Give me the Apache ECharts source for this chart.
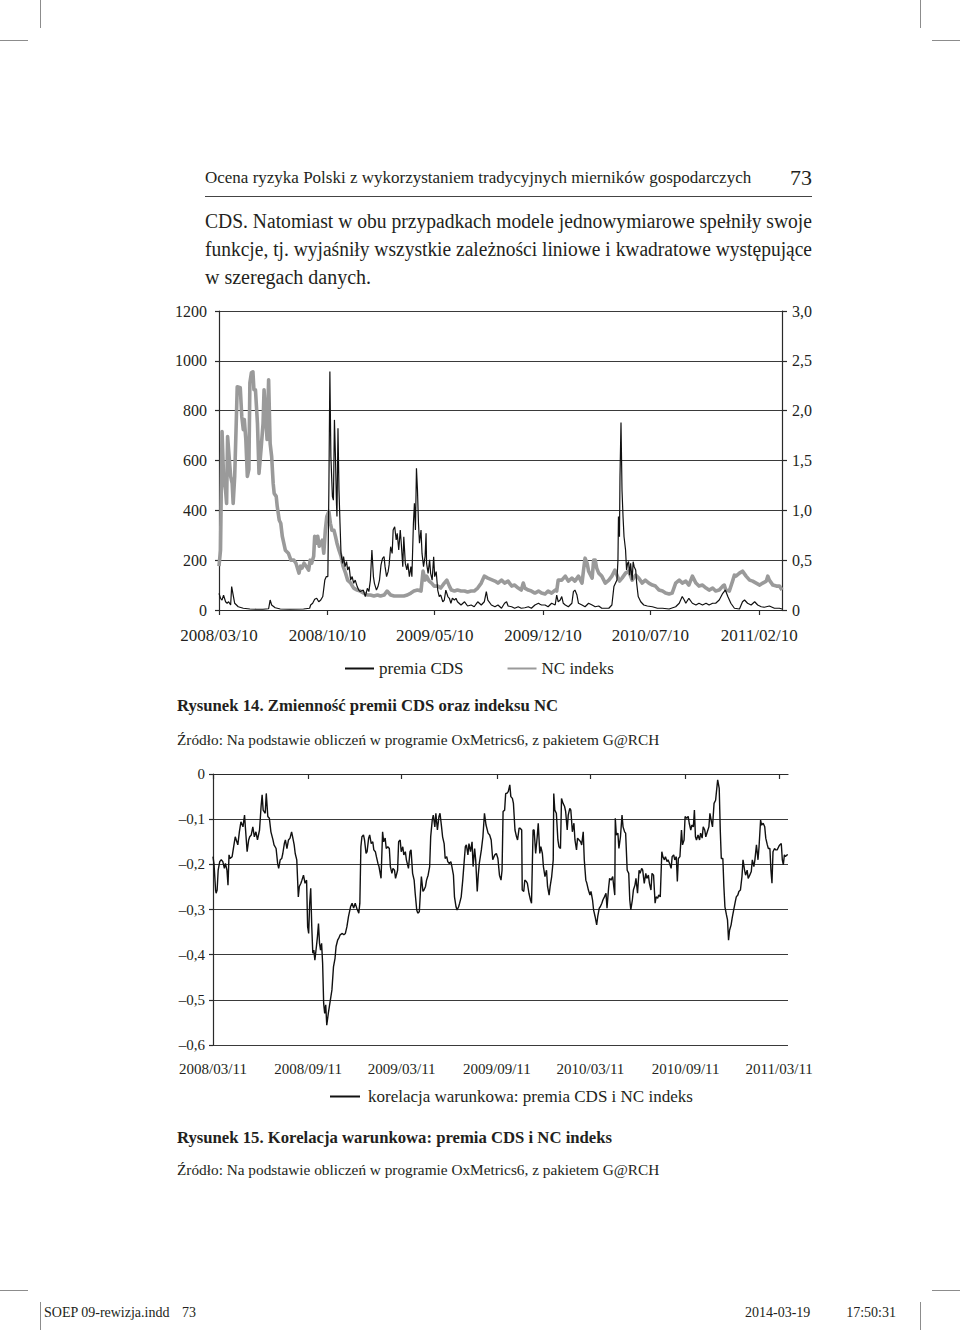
<!DOCTYPE html>
<html><head><meta charset="utf-8">
<script src="https://cdn.jsdelivr.net/npm/echarts@6/dist/echarts.min.js"></script>
<style>
html,body{margin:0;padding:0;background:#fff;}
#page{position:relative;width:960px;height:1330px;overflow:hidden;font-family:"Liberation Serif",serif;color:#231f20;background:#fff;}
#chart{position:absolute;left:0;top:0;width:960px;height:1330px;}
.t{position:absolute;white-space:nowrap;}
.mark{position:absolute;background:#8c8c8c;}
</style></head><body>
<div id="page">
<div id="chart"></div>
<div class="mark" style="left:40px;top:0;width:1px;height:28px"></div>
<div class="mark" style="left:0;top:40px;width:28px;height:1px"></div>
<div class="mark" style="left:920px;top:0;width:1px;height:28px"></div>
<div class="mark" style="left:932px;top:40px;width:28px;height:1px"></div>
<div class="mark" style="left:40px;top:1302px;width:1px;height:28px"></div>
<div class="mark" style="left:0;top:1290px;width:28px;height:1px"></div>
<div class="mark" style="left:920px;top:1302px;width:1px;height:28px"></div>
<div class="mark" style="left:932px;top:1290px;width:28px;height:1px"></div>

<div class="t" style="left:205px;top:169px;font-size:17px;line-height:17px">Ocena ryzyka Polski z wykorzystaniem tradycyjnych mierników gospodarczych</div>
<div class="t" style="right:148px;top:167px;font-size:22px;line-height:22px">73</div>
<div style="position:absolute;left:205px;top:196px;width:607px;height:1px;background:#444"></div>

<div class="t" data-w="607" style="left:205px;top:211px;font-size:20px;line-height:20px">CDS. Natomiast w obu przypadkach modele jednowymiarowe spełniły swoje</div>
<div class="t" data-w="607" style="left:205px;top:239px;font-size:20px;line-height:20px">funkcje, tj. wyjaśniły wszystkie zależności liniowe i kwadratowe występujące</div>
<div class="t" style="left:205px;top:267px;font-size:20px;line-height:20px">w szeregach danych.</div>

<div class="t" style="left:177px;top:697px;font-size:16.7px;line-height:17px;font-weight:bold">Rysunek 14. Zmienność premii CDS oraz indeksu NC</div>
<div class="t" style="left:177px;top:732px;font-size:15.3px;line-height:16px">Źródło: Na podstawie obliczeń w programie OxMetrics6, z pakietem G@RCH</div>
<div class="t" style="left:177px;top:1129px;font-size:16.7px;line-height:17px;font-weight:bold">Rysunek 15. Korelacja warunkowa: premia CDS i NC indeks</div>
<div class="t" style="left:177px;top:1162px;font-size:15.3px;line-height:16px">Źródło: Na podstawie obliczeń w programie OxMetrics6, z pakietem G@RCH</div>

<div class="t" style="left:44px;top:1306px;font-size:14px;line-height:14px">SOEP 09-rewizja.indd</div>
<div class="t" style="right:764px;top:1306px;font-size:14px;line-height:14px">73</div>
<div class="t" style="left:745px;top:1306px;font-size:14px;line-height:14px">2014-03-19</div>
<div class="t" style="right:64px;top:1306px;font-size:14px;line-height:14px">17:50:31</div>
</div>
<script>
// ---- Chart 1 (Rysunek 14): x = days since 2008-03-10 ----
const tickDays1 = [0, 214, 426, 640, 852, 1067];
const tickLabels1 = ['2008/03/10', '2008/10/10', '2009/05/10', '2009/12/10', '2010/07/10', '2011/02/10'];
const cdsName = 'premia CDS';
const ncName = 'NC indeks';
// premia CDS [day, value] (left axis)
const cdsData = [[0,67],[3,47],[6,40],[9,60],[13,33],[16,27],[19,33],[23,20],[25,94],[28,60],[31,27],[38,13],[48,7],[61,4],[74,3],[87,3],[98,5],[101,40],[104,20],[111,9],[121,4],[140,3],[167,4],[179,7],[181,20],[185,27],[189,43],[193,47],[197,33],[201,40],[205,54],[209,120],[212,134],[215,134],[217,481],[219,957],[221,615],[224,455],[226,441],[228,763],[230,615],[232,428],[233,375],[235,729],[237,481],[239,348],[241,227],[244,187],[246,214],[249,174],[252,194],[254,161],[257,174],[260,120],[263,134],[266,107],[269,120],[273,94],[276,80],[279,74],[285,80],[289,54],[293,87],[296,74],[299,120],[302,241],[305,134],[307,107],[311,80],[314,94],[317,120],[320,181],[323,207],[326,214],[328,174],[331,134],[334,154],[336,181],[339,254],[342,227],[344,321],[347,334],[350,281],[352,308],[355,241],[358,321],[360,268],[363,174],[365,294],[368,187],[371,161],[373,187],[376,134],[379,174],[381,134],[384,348],[386,428],[388,321],[390,569],[392,481],[394,348],[396,268],[399,321],[401,227],[404,174],[407,214],[409,308],[410,187],[413,147],[416,201],[418,147],[421,120],[424,214],[426,134],[429,154],[432,80],[435,54],[438,60],[442,33],[445,40],[448,80],[452,54],[455,47],[458,27],[461,47],[465,40],[468,47],[471,33],[478,20],[485,33],[491,16],[498,20],[504,13],[511,33],[518,20],[524,33],[528,74],[531,40],[538,20],[545,13],[551,20],[558,7],[564,27],[568,33],[571,16],[578,13],[584,7],[591,13],[597,7],[604,9],[611,13],[617,7],[624,20],[631,27],[634,23],[637,20],[644,20],[650,13],[657,27],[664,20],[667,60],[670,33],[674,40],[677,54],[680,27],[684,20],[690,13],[697,27],[700,74],[703,80],[707,60],[710,27],[717,20],[723,13],[730,27],[737,20],[743,13],[750,16],[756,7],[763,7],[770,7],[776,20],[780,94],[783,107],[786,120],[788,201],[789,375],[791,294],[792,535],[794,752],[796,481],[798,375],[800,294],[803,241],[805,161],[807,187],[809,194],[811,140],[813,187],[816,120],[818,194],[820,174],[823,161],[825,107],[828,54],[833,33],[839,20],[846,16],[856,13],[866,7],[876,7],[889,4],[902,13],[909,27],[915,54],[919,40],[922,27],[928,47],[935,27],[942,20],[948,27],[955,20],[962,27],[968,20],[975,27],[981,27],[988,40],[995,67],[1000,80],[1005,54],[1011,27],[1018,7],[1028,4],[1034,33],[1038,40],[1044,27],[1051,20],[1058,33],[1064,20],[1071,13],[1077,11],[1087,16],[1097,7],[1107,7],[1112,4]];
// NC indeks [day, value] (right axis)
const ncData = [[0,0.44],[3,0.60],[6,1.79],[9,1.34],[13,1.20],[15,1.07],[17,1.74],[20,1.54],[23,1.34],[26,1.27],[28,1.07],[31,1.34],[34,1.87],[36,2.24],[42,2.23],[45,1.94],[48,1.81],[50,1.91],[53,1.71],[56,1.34],[59,1.41],[61,2.28],[64,2.38],[67,2.39],[69,2.21],[72,2.21],[76,1.87],[79,1.37],[83,1.61],[87,1.87],[89,2.21],[92,1.94],[95,1.71],[98,2.31],[101,1.67],[104,1.54],[107,1.27],[109,1.17],[113,1.14],[115,1.04],[119,0.90],[122,0.87],[125,0.74],[128,0.67],[131,0.60],[137,0.57],[142,0.50],[148,0.50],[152,0.47],[158,0.37],[161,0.44],[164,0.42],[168,0.47],[172,0.44],[177,0.40],[180,0.50],[183,0.47],[187,0.54],[189,0.74],[192,0.67],[195,0.74],[198,0.64],[201,0.67],[204,0.70],[207,0.57],[210,0.80],[213,0.94],[217,0.99],[220,0.87],[223,0.80],[227,0.80],[230,0.74],[233,0.67],[237,0.60],[241,0.54],[245,0.44],[250,0.37],[254,0.30],[260,0.27],[266,0.22],[273,0.20],[279,0.19],[286,0.17],[293,0.15],[299,0.15],[306,0.14],[313,0.15],[319,0.14],[326,0.15],[332,0.19],[339,0.15],[346,0.14],[352,0.14],[359,0.14],[365,0.14],[372,0.15],[379,0.17],[385,0.19],[392,0.20],[399,0.19],[403,0.39],[407,0.30],[410,0.34],[415,0.29],[420,0.27],[425,0.24],[432,0.24],[438,0.22],[445,0.27],[450,0.30],[455,0.24],[459,0.20],[465,0.19],[471,0.20],[478,0.19],[485,0.19],[491,0.18],[498,0.19],[504,0.19],[511,0.22],[518,0.27],[524,0.34],[531,0.32],[545,0.29],[551,0.27],[558,0.30],[564,0.27],[571,0.29],[578,0.24],[584,0.25],[591,0.22],[597,0.20],[601,0.27],[604,0.22],[611,0.20],[617,0.19],[624,0.17],[631,0.19],[637,0.17],[644,0.16],[650,0.19],[657,0.17],[664,0.20],[667,0.19],[670,0.30],[677,0.30],[684,0.34],[690,0.29],[697,0.32],[703,0.29],[710,0.34],[717,0.27],[720,0.40],[723,0.52],[727,0.47],[730,0.39],[737,0.32],[740,0.50],[743,0.50],[746,0.42],[750,0.37],[756,0.34],[763,0.27],[770,0.30],[776,0.34],[782,0.40],[786,0.35],[791,0.29],[796,0.32],[803,0.37],[809,0.39],[813,0.34],[816,0.30],[823,0.35],[829,0.32],[836,0.27],[842,0.30],[849,0.27],[856,0.25],[862,0.24],[869,0.20],[876,0.19],[882,0.17],[889,0.16],[895,0.17],[902,0.27],[909,0.30],[915,0.27],[922,0.29],[928,0.25],[935,0.34],[942,0.27],[948,0.24],[955,0.25],[962,0.22],[968,0.20],[975,0.22],[981,0.19],[988,0.20],[995,0.24],[998,0.25],[1001,0.20],[1008,0.19],[1015,0.30],[1018,0.35],[1021,0.34],[1028,0.37],[1034,0.39],[1041,0.34],[1048,0.30],[1054,0.29],[1061,0.27],[1068,0.25],[1074,0.27],[1081,0.29],[1084,0.34],[1087,0.30],[1094,0.25],[1101,0.24],[1107,0.24],[1112,0.20]];

// ---- Chart 2 (Rysunek 15): x = days since 2008-03-11 ----
const tickDays2 = [0, 184, 365, 549, 730, 914, 1095];
const tickLabels2 = ['2008/03/11', '2008/09/11', '2009/03/11', '2009/09/11', '2010/03/11', '2010/09/11', '2011/03/11'];
const corrName = 'korelacja warunkowa: premia CDS i NC indeks';
const corrData = [[0,-0.183],[2,-0.2],[5,-0.257],[6,-0.264],[8,-0.257],[10,-0.213],[13,-0.194],[16,-0.19],[19,-0.194],[22,-0.209],[24,-0.198],[27,-0.213],[29,-0.246],[31,-0.179],[33,-0.187],[37,-0.183],[40,-0.161],[43,-0.139],[45,-0.146],[48,-0.157],[51,-0.128],[54,-0.106],[58,-0.117],[61,-0.091],[63,-0.124],[66,-0.172],[69,-0.146],[71,-0.139],[74,-0.135],[77,-0.117],[80,-0.139],[83,-0.128],[86,-0.146],[90,-0.124],[93,-0.072],[95,-0.046],[97,-0.08],[101,-0.087],[103,-0.043],[106,-0.094],[109,-0.098],[112,-0.128],[116,-0.146],[118,-0.157],[122,-0.165],[125,-0.198],[127,-0.209],[130,-0.19],[133,-0.187],[135,-0.176],[138,-0.154],[140,-0.146],[143,-0.165],[146,-0.146],[149,-0.142],[152,-0.128],[154,-0.139],[157,-0.157],[159,-0.176],[162,-0.19],[165,-0.272],[167,-0.249],[170,-0.242],[172,-0.235],[175,-0.224],[178,-0.242],[181,-0.235],[183,-0.338],[185,-0.353],[187,-0.286],[189,-0.253],[191,-0.338],[193,-0.397],[195,-0.39],[197,-0.412],[200,-0.382],[202,-0.36],[204,-0.331],[206,-0.375],[208,-0.39],[210,-0.375],[212,-0.419],[214,-0.508],[216,-0.53],[218,-0.511],[220,-0.556],[223,-0.53],[225,-0.515],[228,-0.493],[230,-0.478],[233,-0.427],[236,-0.408],[238,-0.382],[241,-0.368],[243,-0.364],[246,-0.356],[250,-0.353],[253,-0.356],[256,-0.353],[259,-0.338],[262,-0.316],[266,-0.294],[269,-0.286],[272,-0.297],[275,-0.286],[278,-0.297],[282,-0.308],[284,-0.286],[286,-0.161],[288,-0.139],[291,-0.135],[293,-0.146],[296,-0.176],[298,-0.172],[301,-0.142],[303,-0.135],[306,-0.154],[309,-0.15],[311,-0.168],[314,-0.172],[316,-0.183],[319,-0.198],[321,-0.205],[325,-0.231],[328,-0.128],[330,-0.15],[333,-0.142],[335,-0.165],[338,-0.161],[341,-0.165],[343,-0.205],[346,-0.22],[348,-0.209],[351,-0.213],[353,-0.231],[357,-0.213],[359,-0.15],[362,-0.146],[364,-0.172],[367,-0.161],[369,-0.179],[372,-0.172],[374,-0.19],[378,-0.209],[381,-0.172],[383,-0.168],[386,-0.22],[389,-0.235],[391,-0.264],[394,-0.301],[396,-0.308],[399,-0.305],[401,-0.264],[403,-0.227],[406,-0.26],[408,-0.257],[411,-0.249],[413,-0.235],[416,-0.224],[419,-0.205],[421,-0.139],[424,-0.102],[426,-0.091],[429,-0.117],[431,-0.087],[434,-0.124],[437,-0.094],[439,-0.087],[442,-0.117],[444,-0.139],[447,-0.154],[449,-0.187],[452,-0.183],[454,-0.194],[457,-0.198],[460,-0.194],[462,-0.205],[465,-0.224],[467,-0.272],[470,-0.294],[472,-0.301],[475,-0.294],[477,-0.286],[480,-0.272],[483,-0.235],[485,-0.205],[488,-0.161],[490,-0.157],[493,-0.179],[495,-0.154],[498,-0.172],[501,-0.15],[503,-0.205],[506,-0.165],[508,-0.19],[511,-0.26],[513,-0.224],[515,-0.198],[519,-0.168],[522,-0.139],[525,-0.087],[528,-0.113],[532,-0.131],[535,-0.135],[538,-0.146],[541,-0.19],[545,-0.179],[548,-0.176],[551,-0.187],[554,-0.224],[557,-0.235],[559,-0.213],[561,-0.083],[564,-0.08],[566,-0.043],[568,-0.043],[571,-0.039],[574,-0.024],[576,-0.05],[579,-0.054],[581,-0.065],[584,-0.124],[587,-0.139],[589,-0.146],[592,-0.12],[594,-0.12],[597,-0.124],[598,-0.257],[601,-0.26],[603,-0.235],[606,-0.238],[608,-0.242],[611,-0.264],[614,-0.279],[616,-0.286],[619,-0.124],[621,-0.124],[624,-0.176],[627,-0.139],[629,-0.109],[632,-0.176],[634,-0.161],[637,-0.176],[639,-0.205],[642,-0.227],[645,-0.213],[647,-0.249],[650,-0.268],[652,-0.249],[655,-0.227],[658,-0.19],[659,-0.043],[661,-0.08],[664,-0.087],[667,-0.146],[669,-0.161],[672,-0.165],[674,-0.054],[677,-0.065],[680,-0.072],[682,-0.083],[685,-0.124],[687,-0.091],[690,-0.076],[692,-0.08],[695,-0.128],[698,-0.109],[700,-0.146],[703,-0.168],[705,-0.142],[708,-0.146],[711,-0.15],[713,-0.157],[716,-0.128],[718,-0.19],[721,-0.235],[723,-0.242],[726,-0.257],[729,-0.268],[731,-0.26],[734,-0.279],[736,-0.301],[739,-0.316],[742,-0.334],[744,-0.316],[747,-0.297],[749,-0.294],[752,-0.286],[754,-0.279],[757,-0.272],[760,-0.264],[762,-0.297],[765,-0.253],[767,-0.231],[770,-0.235],[773,-0.227],[775,-0.249],[777,-0.268],[778,-0.098],[780,-0.135],[783,-0.131],[785,-0.165],[788,-0.139],[791,-0.091],[793,-0.117],[796,-0.128],[798,-0.131],[801,-0.213],[804,-0.22],[806,-0.279],[808,-0.301],[811,-0.279],[813,-0.257],[816,-0.246],[818,-0.231],[821,-0.264],[824,-0.213],[826,-0.22],[829,-0.209],[831,-0.213],[834,-0.242],[837,-0.22],[839,-0.231],[842,-0.224],[844,-0.242],[847,-0.257],[849,-0.22],[852,-0.224],[855,-0.286],[857,-0.272],[860,-0.275],[862,-0.268],[865,-0.272],[868,-0.172],[870,-0.183],[873,-0.19],[875,-0.183],[878,-0.194],[880,-0.19],[883,-0.198],[886,-0.209],[888,-0.183],[891,-0.179],[893,-0.19],[896,-0.183],[898,-0.238],[900,-0.187],[903,-0.183],[906,-0.124],[908,-0.157],[911,-0.146],[913,-0.094],[916,-0.098],[919,-0.094],[921,-0.109],[924,-0.124],[926,-0.113],[929,-0.117],[931,-0.08],[933,-0.139],[935,-0.146],[938,-0.135],[941,-0.146],[943,-0.131],[946,-0.142],[948,-0.117],[951,-0.124],[953,-0.139],[956,-0.128],[959,-0.117],[961,-0.087],[964,-0.106],[966,-0.117],[969,-0.065],[972,-0.058],[974,-0.035],[976,-0.013],[979,-0.032],[981,-0.124],[983,-0.187],[986,-0.187],[988,-0.249],[990,-0.294],[993,-0.312],[995,-0.323],[997,-0.368],[999,-0.346],[1002,-0.334],[1004,-0.319],[1007,-0.301],[1010,-0.283],[1012,-0.272],[1015,-0.268],[1017,-0.26],[1020,-0.257],[1023,-0.227],[1025,-0.19],[1028,-0.213],[1030,-0.224],[1033,-0.213],[1035,-0.231],[1038,-0.224],[1041,-0.216],[1043,-0.19],[1046,-0.205],[1048,-0.19],[1051,-0.157],[1054,-0.19],[1056,-0.161],[1059,-0.102],[1061,-0.113],[1064,-0.109],[1067,-0.117],[1069,-0.142],[1072,-0.157],[1074,-0.165],[1077,-0.165],[1079,-0.213],[1081,-0.242],[1083,-0.172],[1086,-0.165],[1088,-0.168],[1091,-0.168],[1094,-0.161],[1096,-0.157],[1099,-0.154],[1101,-0.19],[1103,-0.201],[1105,-0.179],[1107,-0.183],[1110,-0.179],[1112,-0.179]];

// fit justified prose lines to their column width
document.querySelectorAll('[data-w]').forEach(function (el) {
  const target = +el.dataset.w;
  const w = el.getBoundingClientRect().width;
  const spaces = (el.textContent.match(/ /g) || []).length;
  if (w > target) { el.style.transformOrigin = '0 0'; el.style.transform = 'scaleX(' + (target / w) + ')'; }
  else if (spaces) { el.style.wordSpacing = ((target - w) / spaces) + 'px'; }
});

const FONT = '"Liberation Serif", serif';
const TXT = '#231f20';
const AX = '#2a2a2a';
const GRIDC = '#3a3a3a';
function plainFmt(v) { return String(v); }
function commaFmt(v) { return v === 0 ? '0' : v.toFixed(1).replace('.', ','); }
function negFmt(v) { return Math.abs(v) < 1e-9 ? '0' : '\u2013' + Math.abs(v).toFixed(1).replace('.', ','); }
function lab(days, labels) { return function (v) { const i = days.indexOf(Math.round(v)); return i < 0 ? '' : labels[i]; }; }

const chart = echarts.init(document.getElementById('chart'), null, { renderer: 'svg', width: 960, height: 1330 });
chart.setOption({
  animation: false,
  backgroundColor: 'transparent',
  grid: [
    { left: 219, top: 311, width: 563, height: 299 },
    { left: 213, top: 774, width: 575, height: 271 }
  ],
  legend: [
    { left: 345, top: 660, padding: 0, itemWidth: 29, itemHeight: 2, itemGap: 44, icon: 'rect',
      data: [cdsName, ncName], selectedMode: false,
      textStyle: { fontFamily: FONT, fontSize: 17, color: TXT } },
    { left: 330, top: 1088, padding: 0, itemWidth: 30, itemHeight: 2, icon: 'rect',
      data: [corrName], selectedMode: false,
      textStyle: { fontFamily: FONT, fontSize: 17, color: TXT, padding: [0, 0, 0, 3] } }
  ],
  xAxis: [
    { gridIndex: 0, type: 'value', min: 0, max: 1112, position: 'bottom',
      axisLine: { onZero: false, lineStyle: { color: AX, width: 1.2 } },
      axisTick: { show: true, length: 5, customValues: tickDays1, lineStyle: { color: AX, width: 1.2 } },
      axisLabel: { customValues: tickDays1, formatter: lab(tickDays1, tickLabels1), margin: 17,
        fontFamily: FONT, fontSize: 17, color: TXT },
      splitLine: { show: false } },
    { gridIndex: 1, type: 'value', min: 0, max: 1112, position: 'top',
      axisLine: { onZero: false, lineStyle: { color: AX, width: 1.2 } },
      axisTick: { show: true, inside: true, length: 5, customValues: tickDays2, lineStyle: { color: AX, width: 1.2 } },
      axisLabel: { show: false },
      splitLine: { show: false } },
    { gridIndex: 1, type: 'value', min: 0, max: 1112, position: 'bottom',
      axisLine: { show: false, onZero: false },
      axisTick: { show: false },
      axisLabel: { customValues: tickDays2, formatter: lab(tickDays2, tickLabels2), margin: 16,
        fontFamily: FONT, fontSize: 15, color: TXT },
      splitLine: { show: false } }
  ],
  yAxis: [
    { gridIndex: 0, type: 'value', min: 0, max: 1200, interval: 200, position: 'left',
      axisLine: { show: true, onZero: false, lineStyle: { color: AX, width: 1.2 } },
      axisTick: { show: true, length: 4, lineStyle: { color: AX, width: 1.2 } },
      axisLabel: { margin: 12, formatter: plainFmt, fontFamily: FONT, fontSize: 16, color: TXT },
      splitLine: { show: true, lineStyle: { color: GRIDC, width: 1.2 } } },
    { gridIndex: 0, type: 'value', min: 0, max: 3, interval: 0.5, position: 'right',
      axisLine: { show: true, onZero: false, lineStyle: { color: AX, width: 1.2 } },
      axisTick: { show: true, length: 5, lineStyle: { color: AX, width: 1.2 } },
      axisLabel: { margin: 10, formatter: commaFmt, fontFamily: FONT, fontSize: 16, color: TXT },
      splitLine: { show: false } },
    { gridIndex: 1, type: 'value', min: -0.6, max: 0, interval: 0.1, position: 'left',
      axisLine: { show: true, onZero: false, lineStyle: { color: AX, width: 1.2 } },
      axisTick: { show: true, length: 4, lineStyle: { color: AX, width: 1.2 } },
      axisLabel: { margin: 8, formatter: negFmt, fontFamily: FONT, fontSize: 15, color: TXT },
      splitLine: { show: true, lineStyle: { color: GRIDC, width: 1.2 } } }
  ],
  series: [
    { name: ncName, type: 'line', xAxisIndex: 0, yAxisIndex: 1, data: ncData, symbol: 'none',
      lineStyle: { color: '#9a9a9a', width: 3.6, join: 'round' }, itemStyle: { color: '#9a9a9a' } },
    { name: cdsName, type: 'line', xAxisIndex: 0, yAxisIndex: 0, data: cdsData, symbol: 'none',
      lineStyle: { color: '#111', width: 1.2 }, itemStyle: { color: '#111' } },
    { name: corrName, type: 'line', xAxisIndex: 1, yAxisIndex: 2, data: corrData, symbol: 'none',
      lineStyle: { color: '#111', width: 1.4 }, itemStyle: { color: '#111' } }
  ]
});
</script>
</body></html>
